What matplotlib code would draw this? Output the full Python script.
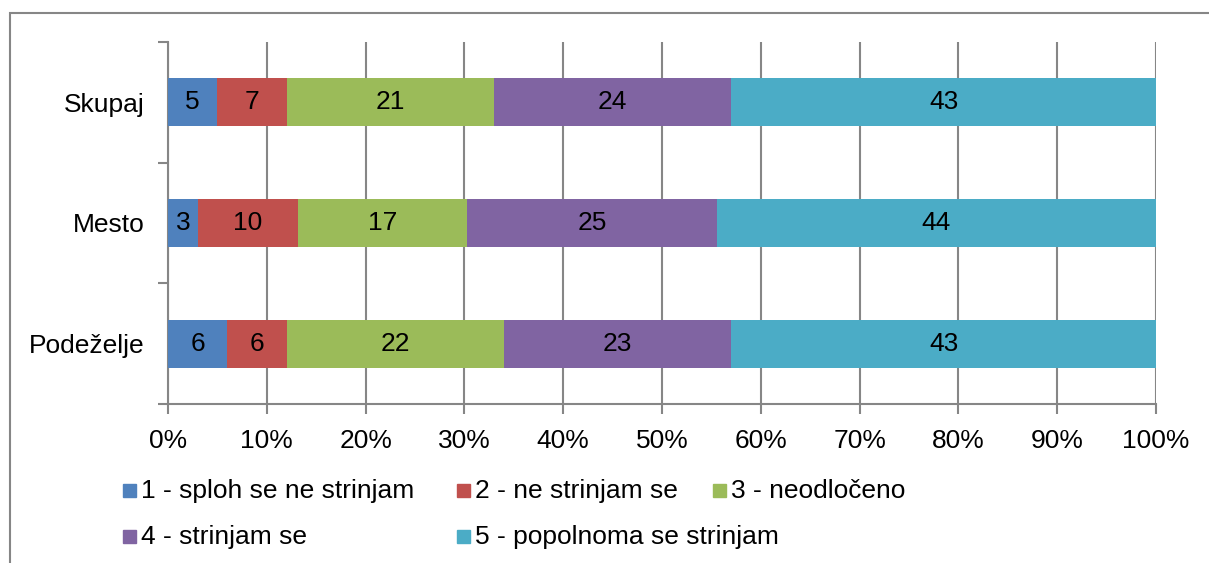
import numpy as np
import matplotlib.pyplot as plt
from matplotlib.patches import Rectangle

plt.rcParams['font.family'] = ['Liberation Sans', 'DejaVu Sans']

# data (bottom to top)
categories = ["Podeželje", "Mesto", "Skupaj"]
series_names = ["1 - sploh se ne strinjam", "2 - ne strinjam se", "3 - neodločeno",
                "4 - strinjam se", "5 - popolnoma se strinjam"]
s1 = [6, 3, 5]
s2 = [6, 10, 7]
s3 = [22, 17, 21]
s4 = [23, 25, 24]
s5 = [43, 44, 43]
colors = ["#4F81BD", "#C0504D", "#9BBB59", "#8064A2", "#4BACC6"]

series = np.array([s1, s2, s3, s4, s5], dtype=float)
totals = series.sum(axis=0)
shares = series / totals

fs = 19
fig = plt.figure(figsize=(12.09, 5.63), dpi=100)
ax = fig.add_axes([168/1209, 1-404/563, (1156-168)/1209, (404-42)/563])

grid_c = "#868686"
ax.set_axisbelow(True)
ax.xaxis.grid(True, color=grid_c, linewidth=1.5)

y = np.arange(len(categories))
left = np.zeros(len(categories))
for i in range(len(series)):
    ax.barh(y, shares[i], left=left, height=0.4, color=colors[i], zorder=3)
    for j in range(len(categories)):
        ax.text(left[j] + shares[i][j]/2, y[j], "%d" % series[i][j],
                ha="center", va="center", fontsize=fs, zorder=4)
    left += shares[i]

ax.set_xlim(0, 1)
ax.set_ylim(-0.5, 2.5)
ax.set_xticks(np.arange(0, 1.01, 0.1))
ax.set_xticklabels(["%d%%" % v for v in range(0, 101, 10)], fontsize=fs)
ax.set_yticks(y)
ax.set_yticklabels(categories, fontsize=fs)
ax.set_yticks([-0.5, 0.5, 1.5, 2.5], minor=True)
ax.tick_params(axis="y", which="major", length=0, pad=17)
ax.tick_params(axis="y", which="minor", length=7, width=1.5, color=grid_c)
ax.tick_params(axis="x", length=7, width=1.5, color=grid_c, pad=11)

for s in ["top", "right"]:
    ax.spines[s].set_visible(False)
for s in ["left", "bottom"]:
    ax.spines[s].set_color(grid_c)
    ax.spines[s].set_linewidth(1.5)

# legend drawn by hand to keep the irregular placement
W, H = 1209, 563
legend_pos = [(123, 491), (457, 491), (713, 491), (123, 537), (457, 537)]
for (px, py), name, c in zip(legend_pos, series_names, colors):
    fig.patches.append(Rectangle((px/W, 1-(py+6)/H), 13/W, 13/H,
                                 transform=fig.transFigure, color=c))
    fig.text((px+18)/W, 1-py/H, name, fontsize=fs, va="center", ha="left")

# outer chart border
fig.patches.append(Rectangle((10/W, -0.05), 1.1, 1-13/H+0.05, transform=fig.transFigure,
                             fill=False, edgecolor=grid_c, linewidth=1.5))

fig.savefig("out.png", dpi=100)
